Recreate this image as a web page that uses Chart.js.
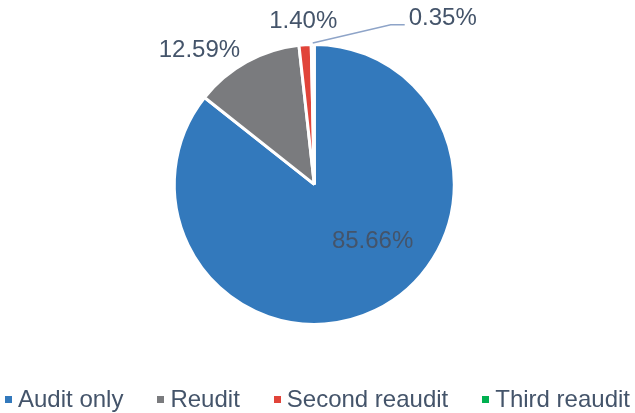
<!DOCTYPE html>
<html>
<head>
<meta charset="utf-8">
<script src="https://cdn.jsdelivr.net/npm/chart.js@4/dist/chart.umd.min.js"></script>
<style>
  html, body { margin: 0; padding: 0; background: #fff; overflow: hidden; }
  #wrap { position: relative; width: 635px; height: 413px; }
  #legend {
    position: absolute; left: 0; top: 387px; width: 635px; height: 24px;
    display: flex; justify-content: center; align-items: center;
    font-family: "Liberation Sans", Arial, sans-serif; font-size: 24px; line-height: 24px;
    color: #44546A; white-space: nowrap;
  }
  .item { display: flex; align-items: center; margin: 0 17px; }
  .box { width: 7px; height: 7px; margin-right: 6px; }
</style>
</head>
<body>
<div id="wrap">
  <canvas id="pie" width="635" height="413"></canvas>
  <div id="legend"></div>
</div>
<script>
// donnees du graphique
const categories = ["Audit only", "Reudit", "Second reaudit", "Third reaudit"];
const shares = [85.66, 12.59, 1.40, 0.35];
const shareLabels = ["85.66%", "12.59%", "1.40%", "0.35%"];

const colors = ["#3379BC", "#7A7B7E", "#E1443A", "#00B050"];
const textColor = "#44546A";

// placement des etiquettes : angle (degres depuis le haut, sens horaire) et distance / rayon
const labelPlace = [
  { angle: 134.5, dist: 0.59 },
  { angle: -40.6, dist: 1.275 },
  { angle: -3.9, dist: 1.177 },
  { angle: 37.8, dist: 1.513, leader: true }
];

// plugin pour dessiner les etiquettes
const pieLabels = {
  id: "pieLabels",
  afterDatasetsDraw(chart) {
    const ctx = chart.ctx;
    const arcs = chart.getDatasetMeta(0).data;
    ctx.save();
    ctx.font = '24px "Liberation Sans", Arial, sans-serif';
    ctx.textAlign = "center";
    ctx.textBaseline = "middle";
    arcs.forEach((arc, i) => {
      const p = arc.getProps(["x", "y", "startAngle", "endAngle", "outerRadius"], true);
      const r = p.outerRadius - 1.5;
      const place = labelPlace[i];
      const a = (place.angle - 90) * Math.PI / 180;
      const lx = p.x + Math.cos(a) * r * place.dist;
      const ly = p.y + Math.sin(a) * r * place.dist;
      if (place.leader) {
        const mid = (p.startAngle + p.endAngle) / 2;
        const w = ctx.measureText(shareLabels[i]).width;
        const left = lx - w / 2;
        ctx.strokeStyle = "#8EA4C8";
        ctx.lineWidth = 1.5;
        ctx.beginPath();
        ctx.moveTo(p.x + Math.cos(mid) * (r + 3), p.y + Math.sin(mid) * (r + 3));
        ctx.lineTo(left - 18, ly + 6);
        ctx.lineTo(left - 4, ly + 6);
        ctx.stroke();
      }
      ctx.fillStyle = textColor;
      ctx.fillText(shareLabels[i], lx, ly);
    });
    ctx.restore();
  }
};

const pieChart = new Chart(document.getElementById("pie"), {
  type: "pie",
  data: {
    labels: categories,
    datasets: [{
      data: shares,
      backgroundColor: colors,
      borderColor: "#ffffff",
      borderWidth: 3
    }]
  },
  options: {
    responsive: false,
    animation: false,
    events: [],
    layout: { padding: { left: 172.8, right: 179.2, top: 42.9, bottom: 87.1 } },
    plugins: {
      legend: { display: false },
      tooltip: { enabled: false }
    }
  },
  plugins: [pieLabels]
});

// legende html
const legendBox = document.getElementById("legend");
categories.forEach((name, i) => {
  const item = document.createElement("div");
  item.className = "item";
  item.innerHTML = `<span class="box" style="background:${colors[i]}"></span><span>${name}</span>`;
  legendBox.appendChild(item);
});
</script>
</body>
</html>
